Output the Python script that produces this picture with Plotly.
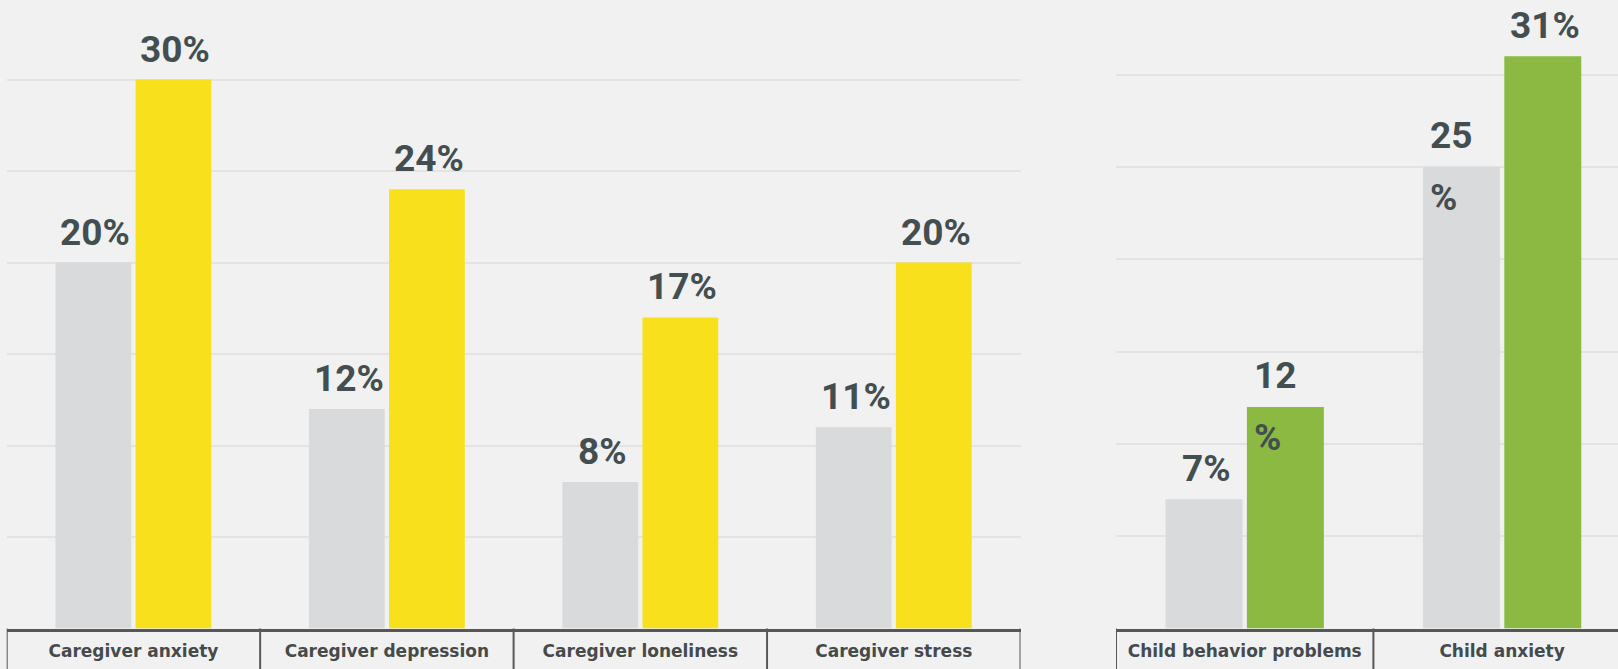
import plotly.graph_objects as go

# Caregiver outcomes (left panel)
caregiver_labels = ["Caregiver anxiety", "Caregiver depression", "Caregiver loneliness", "Caregiver stress"]
caregiver_before = [20, 12, 8, 11]
caregiver_during = [30, 24, 17, 20]

# Child outcomes (right panel)
child_labels = ["Child behavior problems", "Child anxiety"]
child_before = [7, 25]
child_during = [12, 31]

grid_ticks = [5, 10, 15, 20, 25, 30]

W, H = 1618, 669
BG = "#f1f1f1"
GRID = "#e3e3e3"
GRAY_BAR = "#d9dadb"
YELLOW = "#f8e11c"
GREEN = "#8bb942"
VALUE_COLOR = "#434e50"
LABEL_COLOR = "#454a4b"
RULE_COLOR = "#575757"

BARGAP = 0.368
BARGROUPGAP = 0.054

base_px = 628.5            # baseline position from the top, in pixels
base_frac = (H - base_px) / H
px_per_pct_left = 18.3
px_per_pct_right = 18.46

# labels whose percent sign drops onto a second line
split_labels = {("x2", 0, 1), ("x2", 1, 0)}

fig = go.Figure()

panels = [
    ("x", "y", caregiver_labels, caregiver_before, caregiver_during, YELLOW),
    ("x2", "y2", child_labels, child_before, child_during, GREEN),
]

for xa, ya, cats, before, during, color in panels:
    fig.add_trace(go.Bar(x=cats, y=before, name="Before", marker_color=GRAY_BAR,
                         marker_line_width=0, xaxis=xa, yaxis=ya, showlegend=False,
                         hoverinfo="skip"))
    fig.add_trace(go.Bar(x=cats, y=during, name="During", marker_color=color,
                         marker_line_width=0, xaxis=xa, yaxis=ya, showlegend=False,
                         hoverinfo="skip"))

slot = (1 - BARGAP) / 2
bar_w = slot * (1 - BARGROUPGAP)
value_font = dict(family="Roboto", size=37, color=VALUE_COLOR, weight=700)

annotations = []
for xa, ya, cats, before, during, color in panels:
    for s, series in enumerate([before, during]):
        off = -slot / 2 if s == 0 else slot / 2
        for i, v in enumerate(series):
            xc = i + off
            if (xa, s, i) in split_labels:
                annotations.append(dict(
                    x=xc - bar_w / 2, y=v, xref=xa, yref=ya, text=f"{v}",
                    showarrow=False, xanchor="left", yanchor="bottom",
                    xshift=5, yshift=8, font=value_font))
                annotations.append(dict(
                    x=xc - bar_w / 2, y=v, xref=xa, yref=ya, text="%",
                    showarrow=False, xanchor="left", yanchor="top",
                    xshift=5, yshift=-7, font=value_font))
            else:
                annotations.append(dict(
                    x=xc, y=v, xref=xa, yref=ya, text=f"{v}%",
                    showarrow=False, xanchor="center", yanchor="bottom",
                    xshift=2, yshift=7, font=value_font))

# vertical rules dividing the category cells under the baseline
shapes = []
for xa, ya, cats, *_ in panels:
    for k in range(len(cats) + 1):
        shapes.append(dict(type="line", xref=xa, yref="paper",
                           x0=k - 0.5, x1=k - 0.5, y0=0, y1=base_frac,
                           line=dict(color=RULE_COLOR, width=2)))

left_dom = [6.7 / W, 1020.5 / W]
right_dom = [1116 / W, 1.0]
right_cat_px = 257.4
right_span = (W - 1116) / right_cat_px

xaxis_common = dict(
    type="category", showgrid=False, zeroline=False, ticks="",
    showline=True, linecolor=RULE_COLOR, linewidth=2.5,
    tickfont=dict(family="DejaVu Sans", size=17, color=LABEL_COLOR, weight=700),
    ticklabelstandoff=5,
    fixedrange=True,
)
yaxis_common = dict(
    tickvals=grid_ticks, showticklabels=False, showgrid=True,
    gridcolor=GRID, gridwidth=2, zeroline=False, showline=False,
    domain=[base_frac, 1], fixedrange=True,
)

fig.update_layout(
    width=W, height=H,
    margin=dict(l=0, r=0, t=0, b=0),
    paper_bgcolor=BG, plot_bgcolor=BG,
    barmode="group", bargap=BARGAP, bargroupgap=BARGROUPGAP,
    xaxis=dict(xaxis_common, domain=left_dom, range=[-0.5, len(caregiver_labels) - 0.5], anchor="y"),
    xaxis2=dict(xaxis_common, domain=right_dom, range=[-0.5, -0.5 + right_span], anchor="y2"),
    yaxis=dict(yaxis_common, range=[0, base_px / px_per_pct_left], anchor="x"),
    yaxis2=dict(yaxis_common, range=[0, base_px / px_per_pct_right], anchor="x2"),
    annotations=annotations,
    shapes=shapes,
    showlegend=False,
)

fig.write_html("out.html")
